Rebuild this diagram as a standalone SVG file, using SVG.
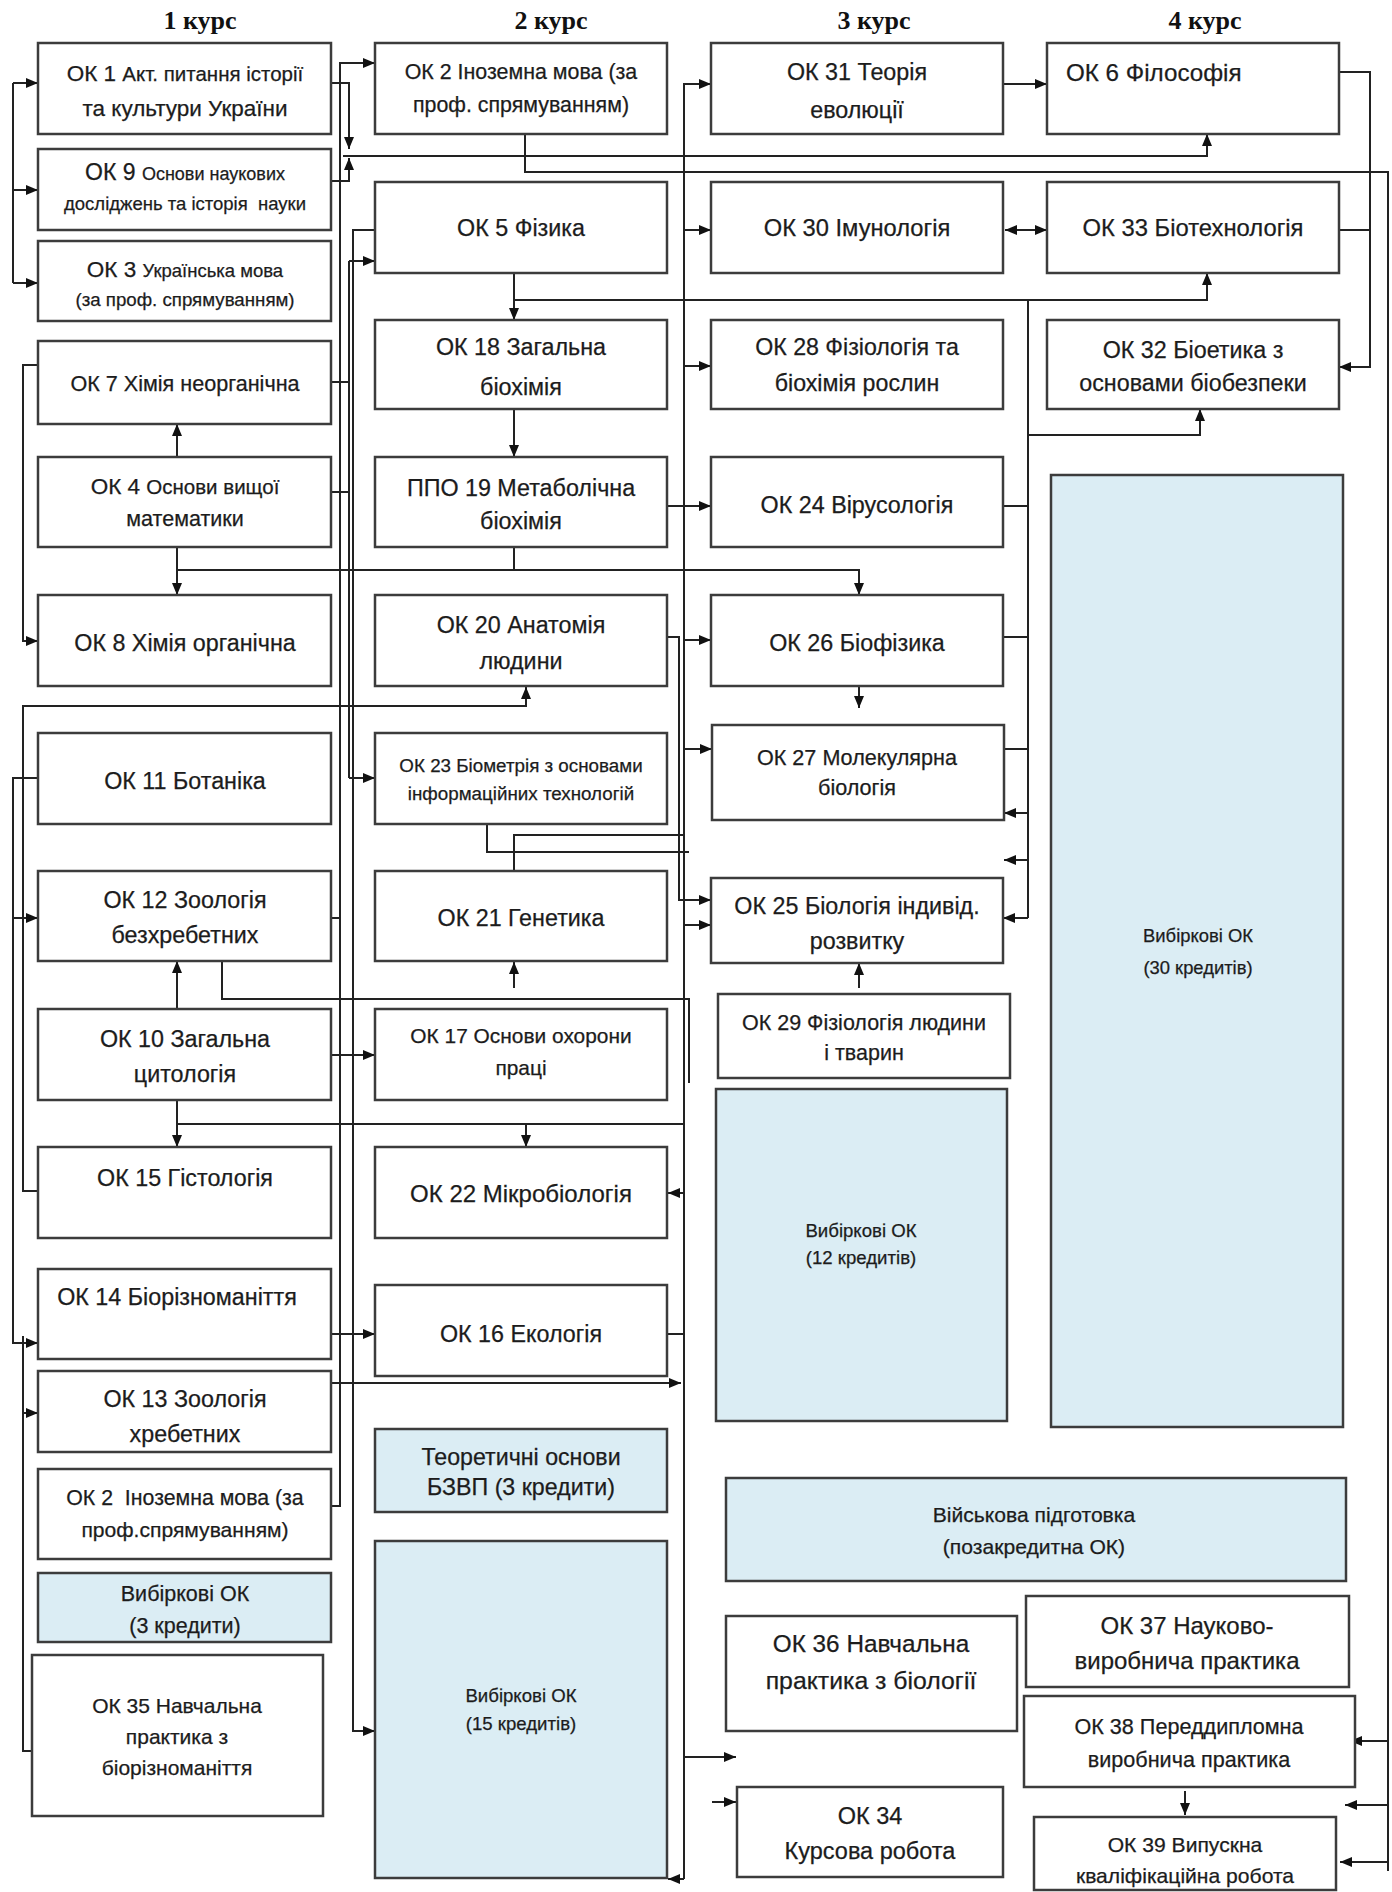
<svg xmlns="http://www.w3.org/2000/svg" width="1392" height="1892" viewBox="0 0 1392 1892">
<style>
.b{fill:#fff;stroke:#3c3c3c;stroke-width:2.5}
.e{fill:#dbedf4;stroke:#3c3c3c;stroke-width:2.5}
.t{font-family:'Liberation Sans',Arial,sans-serif;fill:#1c1c1c;stroke:#1c1c1c;stroke-width:0.25;text-anchor:middle;font-size:23.3px}
.h{font-family:'Liberation Serif','Times New Roman',serif;font-weight:bold;font-size:26px;fill:#111;text-anchor:middle}
.c{fill:none;stroke:#222;stroke-width:2}
.a{marker-end:url(#ar)}
</style>
<defs>
<marker id="ar" viewBox="0 0 12 10" refX="12" refY="5" markerWidth="12" markerHeight="10" markerUnits="userSpaceOnUse" orient="auto-start-reverse">
<path d="M0,0 L12,5 L0,10 z" fill="#111"/>
</marker>
</defs>
<rect width="1392" height="1892" fill="#fff"/>
<g id="headers">
<text class="h" x="200" y="29">1 курс</text>
<text class="h" x="551" y="29">2 курс</text>
<text class="h" x="874" y="29">3 курс</text>
<text class="h" x="1205" y="29">4 курс</text>
</g>
<g id="connectors">
<path class="c" d="M13,83 V283"/>
<path class="c a" d="M13,83 H38"/>
<path class="c a" d="M13,190 H38"/>
<path class="c a" d="M13,283 H38"/>
<path class="c a" d="M38,365 H23 V641 H38"/>
<path class="c a" d="M38,1191 H23 V706 H526 V687"/>
<path class="c a" d="M38,778 H13 V1343 H38"/>
<path class="c a" d="M13,918 H38"/>
<path class="c a" d="M23,1336 V1751 H48"/>
<path class="c a" d="M23,1413 H38"/>
<path class="c a" d="M331,83 H349 V149"/>
<path class="c a" d="M331,181 H349 V158"/>
<path class="c a" d="M343,156 H1207 V134"/>
<path class="c a" d="M331,1506 H340 V63 H375"/>
<path class="c" d="M331,918 H340"/>
<path class="c" d="M331,382 H349 M331,492 H349 M349,261 V778"/>
<path class="c a" d="M349,261 H375"/>
<path class="c a" d="M349,778 H375"/>
<path class="c a" d="M375,230 H353 V1731 H375"/>
<path class="c a" d="M177,457 V424"/>
<path class="c a" d="M177,547 V595"/>
<path class="c a" d="M177,570 H859 V595"/>
<path class="c" d="M514,547 V570"/>
<path class="c a" d="M177,1009 V961"/>
<path class="c a" d="M331,1055 H375"/>
<path class="c a" d="M177,1100 V1147"/>
<path class="c" d="M177,1124 H684"/>
<path class="c a" d="M526,1124 V1147"/>
<path class="c" d="M222,961 V999 H689 V1083"/>
<path class="c a" d="M331,1334 H375"/>
<path class="c a" d="M331,1383 H681"/>
<path class="c" d="M525,134 V172 H1388 V1871"/>
<path class="c a" d="M1388,1741 H1350"/>
<path class="c a" d="M1388,1805 H1345"/>
<path class="c a" d="M1388,1862 H1340"/>
<path class="c a" d="M514,273 V320"/>
<path class="c a" d="M514,300 H1207 V273"/>
<path class="c a" d="M514,409 V457"/>
<path class="c a" d="M684,1879 V84 H711"/>
<path class="c a" d="M684,230 H711"/>
<path class="c a" d="M684,366 H711"/>
<path class="c a" d="M667,506 H711"/>
<path class="c a" d="M684,640 H711"/>
<path class="c a" d="M684,749 H712"/>
<path class="c a" d="M684,925 H711"/>
<path class="c a" d="M684,1193 H668"/>
<path class="c" d="M667,1334 H684"/>
<path class="c a" d="M684,1879 H668"/>
<path class="c a" d="M684,1757 H736"/>
<path class="c a" d="M712,1802 H736"/>
<path class="c a" d="M667,637 H679 V900 H711"/>
<path class="c" d="M487,824 V852 H689"/>
<path class="c" d="M514,871 V835 H684"/>
<path class="c a" d="M514,988 V962"/>
<path class="c a" d="M859,988 V963"/>
<path class="c a" d="M859,686 V708"/>
<path class="c a" d="M1003,84 H1047"/>
<path class="c a" d="M1005,230 H1047" marker-start="url(#ar)"/>
<path class="c a" d="M1339,72 H1370 V367 H1339"/>
<path class="c" d="M1339,230 H1370"/>
<path class="c" d="M1028,300 V918"/>
<path class="c a" d="M1028,435 H1200 V409"/>
<path class="c" d="M1003,506 H1028 M1003,637 H1028 M1004,749 H1028"/>
<path class="c a" d="M1028,813 H1004"/>
<path class="c a" d="M1028,860 H1004"/>
<path class="c a" d="M1028,918 H1003"/>
<path class="c a" d="M1185,1791 V1815"/>
</g>
<g id="ok1"><rect class="b" x="38" y="43" width="293" height="91"/><text class="t" x="185" y="81"><tspan style="font-size:22.5px">ОК 1 </tspan><tspan style="font-size:20.5px">Акт. питання історії</tspan></text><text class="t" x="185" y="116" style="font-size:22.5px">та культури України</text></g>
<g id="ok9"><rect class="b" x="38" y="149" width="293" height="81"/><text class="t" x="185" y="180"><tspan style="font-size:23px">ОК 9 </tspan><tspan style="font-size:18px">Основи наукових</tspan></text><text class="t" x="185" y="210" style="font-size:18.5px;white-space:pre">досліджень та історія  науки</text></g>
<g id="ok3"><rect class="b" x="38" y="241" width="293" height="80"/><text class="t" x="185" y="277"><tspan style="font-size:22.5px">ОК 3 </tspan><tspan style="font-size:18.5px">Українська мова</tspan></text><text class="t" x="185" y="306" style="font-size:18.7px">(за проф. спрямуванням)</text></g>
<g id="ok7"><rect class="b" x="38" y="341" width="293" height="83"/><text class="t" x="185" y="391" style="font-size:21.6px">ОК 7 Хімія неорганічна</text></g>
<g id="ok4"><rect class="b" x="38" y="457" width="293" height="90"/><text class="t" x="185" y="494"><tspan style="font-size:22.5px">ОК 4 </tspan><tspan style="font-size:20.5px">Основи вищої</tspan></text><text class="t" x="185" y="526" style="font-size:21.5px">математики</text></g>
<g id="ok8"><rect class="b" x="38" y="595" width="293" height="91"/><text class="t" x="185" y="651">ОК 8 Хімія органічна</text></g>
<g id="ok11"><rect class="b" x="38" y="733" width="293" height="91"/><text class="t" x="185" y="789">ОК 11 Ботаніка</text></g>
<g id="ok12"><rect class="b" x="38" y="871" width="293" height="90"/><text class="t" x="185" y="908">ОК 12 Зоологія</text><text class="t" x="185" y="943">безхребетних</text></g>
<g id="ok10"><rect class="b" x="38" y="1009" width="293" height="91"/><text class="t" x="185" y="1047">ОК 10 Загальна</text><text class="t" x="185" y="1082">цитологія</text></g>
<g id="ok15"><rect class="b" x="38" y="1147" width="293" height="91"/><text class="t" x="185" y="1186">ОК 15 Гістологія</text></g>
<g id="ok14"><rect class="b" x="38" y="1269" width="293" height="90"/><text class="t" x="177" y="1305">ОК 14 Біорізноманіття</text></g>
<g id="ok13"><rect class="b" x="38" y="1371" width="293" height="81"/><text class="t" x="185" y="1407">ОК 13 Зоологія</text><text class="t" x="185" y="1442">хребетних</text></g>
<g id="ok2a"><rect class="b" x="38" y="1469" width="293" height="90"/><text class="t" x="185" y="1505" style="font-size:21.3px;white-space:pre">ОК 2  Іноземна мова (за</text><text class="t" x="185" y="1537" style="font-size:21.1px">проф.спрямуванням)</text></g>
<g id="el3"><rect class="e" x="38" y="1573" width="293" height="69"/><text class="t" x="185" y="1601" style="font-size:21.5px">Вибіркові ОК</text><text class="t" x="185" y="1633" style="font-size:21.5px">(3 кредити)</text></g>
<g id="ok35"><rect class="b" x="32" y="1655" width="291" height="161"/><text class="t" x="177" y="1713" style="font-size:21px">ОК 35 Навчальна</text><text class="t" x="177" y="1744" style="font-size:21px">практика з</text><text class="t" x="177" y="1775" style="font-size:21px">біорізноманіття</text></g>
<g id="ok2"><rect class="b" x="375" y="43" width="292" height="91"/><text class="t" x="521" y="79" style="font-size:21.4px">ОК 2 Іноземна мова (за</text><text class="t" x="521" y="112" style="font-size:21.4px">проф. спрямуванням)</text></g>
<g id="ok5"><rect class="b" x="375" y="182" width="292" height="91"/><text class="t" x="521" y="236">ОК 5 Фізика</text></g>
<g id="ok18"><rect class="b" x="375" y="320" width="292" height="89"/><text class="t" x="521" y="355">ОК 18 Загальна</text><text class="t" x="521" y="395">біохімія</text></g>
<g id="ok19"><rect class="b" x="375" y="457" width="292" height="90"/><text class="t" x="521" y="496">ППО 19 Метаболічна</text><text class="t" x="521" y="529">біохімія</text></g>
<g id="ok20"><rect class="b" x="375" y="595" width="292" height="91"/><text class="t" x="521" y="633">ОК 20 Анатомія</text><text class="t" x="521" y="669">людини</text></g>
<g id="ok23"><rect class="b" x="375" y="733" width="292" height="91"/><text class="t" x="521" y="772" style="font-size:18.8px">ОК 23 Біометрія з основами</text><text class="t" x="521" y="800" style="font-size:18.8px">інформаційних технологій</text></g>
<g id="ok21"><rect class="b" x="375" y="871" width="292" height="90"/><text class="t" x="521" y="926">ОК 21 Генетика</text></g>
<g id="ok17"><rect class="b" x="375" y="1009" width="292" height="91"/><text class="t" x="521" y="1043" style="font-size:20.9px">ОК 17 Основи охорони</text><text class="t" x="521" y="1075" style="font-size:20.9px">праці</text></g>
<g id="ok22"><rect class="b" x="375" y="1147" width="292" height="91"/><text class="t" x="521" y="1202" style="font-size:24px">ОК 22 Мікробіологія</text></g>
<g id="ok16"><rect class="b" x="375" y="1285" width="292" height="91"/><text class="t" x="521" y="1342">ОК 16 Екологія</text></g>
<g id="bzvp"><rect class="e" x="375" y="1429" width="292" height="83"/><text class="t" x="521" y="1465" style="font-size:23.2px">Теоретичні основи</text><text class="t" x="521" y="1495" style="font-size:23.2px">БЗВП (3 кредити)</text></g>
<g id="el15"><rect class="e" x="375" y="1541" width="292" height="337"/><text class="t" x="521" y="1702" style="font-size:18.6px">Вибіркові ОК</text><text class="t" x="521" y="1730" style="font-size:18.6px">(15 кредитів)</text></g>
<g id="ok31"><rect class="b" x="711" y="43" width="292" height="91"/><text class="t" x="857" y="80">ОК 31 Теорія</text><text class="t" x="857" y="118">еволюції</text></g>
<g id="ok30"><rect class="b" x="711" y="182" width="292" height="91"/><text class="t" x="857" y="236" style="font-size:23.7px">ОК 30 Імунологія</text></g>
<g id="ok28"><rect class="b" x="711" y="320" width="292" height="89"/><text class="t" x="857" y="355" style="font-size:23.2px">ОК 28 Фізіологія та</text><text class="t" x="857" y="391" style="font-size:23.2px">біохімія рослин</text></g>
<g id="ok24"><rect class="b" x="711" y="457" width="292" height="90"/><text class="t" x="857" y="513">ОК 24 Вірусологія</text></g>
<g id="ok26"><rect class="b" x="711" y="595" width="292" height="91"/><text class="t" x="857" y="651">ОК 26 Біофізика</text></g>
<g id="ok27"><rect class="b" x="712" y="725" width="292" height="95"/><text class="t" x="857" y="765" style="font-size:21.6px">ОК 27 Молекулярна</text><text class="t" x="857" y="795" style="font-size:21.6px">біологія</text></g>
<g id="ok25"><rect class="b" x="711" y="878" width="292" height="85"/><text class="t" x="857" y="914">ОК 25 Біологія індивід.</text><text class="t" x="857" y="949">розвитку</text></g>
<g id="ok29"><rect class="b" x="718" y="994" width="292" height="84"/><text class="t" x="864" y="1030" style="font-size:21.5px">ОК 29 Фізіологія людини</text><text class="t" x="864" y="1060" style="font-size:21.5px">і тварин</text></g>
<g id="el12"><rect class="e" x="716" y="1089" width="291" height="332"/><text class="t" x="861" y="1237" style="font-size:18.6px">Вибіркові ОК</text><text class="t" x="861" y="1264" style="font-size:18.6px">(12 кредитів)</text></g>
<g id="mil"><rect class="e" x="726" y="1478" width="620" height="103"/><text class="t" x="1034" y="1522" style="font-size:21.1px">Військова підготовка</text><text class="t" x="1034" y="1554" style="font-size:21.1px">(позакредитна ОК)</text></g>
<g id="ok36"><rect class="b" x="726" y="1616" width="291" height="115"/><text class="t" x="871" y="1652" style="font-size:24.3px">ОК 36 Навчальна</text><text class="t" x="871" y="1689" style="font-size:24.8px">практика з біології</text></g>
<g id="ok34"><rect class="b" x="737" y="1787" width="266" height="90"/><text class="t" x="870" y="1824" style="font-size:23.5px">ОК 34</text><text class="t" x="870" y="1859" style="font-size:23.5px">Курсова робота</text></g>
<g id="ok6"><rect class="b" x="1047" y="43" width="292" height="91"/><text class="t" x="1066" y="81" style="text-anchor:start;font-size:24.2px">ОК 6 Філософія</text></g>
<g id="ok33"><rect class="b" x="1047" y="182" width="292" height="91"/><text class="t" x="1193" y="236" style="font-size:23.8px">ОК 33 Біотехнологія</text></g>
<g id="ok32"><rect class="b" x="1047" y="320" width="292" height="89"/><text class="t" x="1193" y="358">ОК 32 Біоетика з</text><text class="t" x="1193" y="391">основами біобезпеки</text></g>
<g id="el30"><rect class="e" x="1051" y="475" width="292" height="952"/><text class="t" x="1198" y="942" style="font-size:18.4px">Вибіркові ОК</text><text class="t" x="1198" y="974" style="font-size:18.4px">(30 кредитів)</text></g>
<g id="ok37"><rect class="b" x="1026" y="1596" width="323" height="91"/><text class="t" x="1187" y="1634" style="font-size:24px">ОК 37 Науково-</text><text class="t" x="1187" y="1669" style="font-size:24px">виробнича практика</text></g>
<g id="ok38"><rect class="b" x="1024" y="1696" width="331" height="91"/><text class="t" x="1189" y="1734" style="font-size:21.6px">ОК 38 Переддипломна</text><text class="t" x="1189" y="1767" style="font-size:21.6px">виробнича практика</text></g>
<g id="ok39"><rect class="b" x="1034" y="1817" width="302" height="73"/><text class="t" x="1185" y="1852" style="font-size:21.1px">ОК 39 Випускна</text><text class="t" x="1185" y="1883" style="font-size:21.1px">кваліфікаційна робота</text></g>
</svg>
